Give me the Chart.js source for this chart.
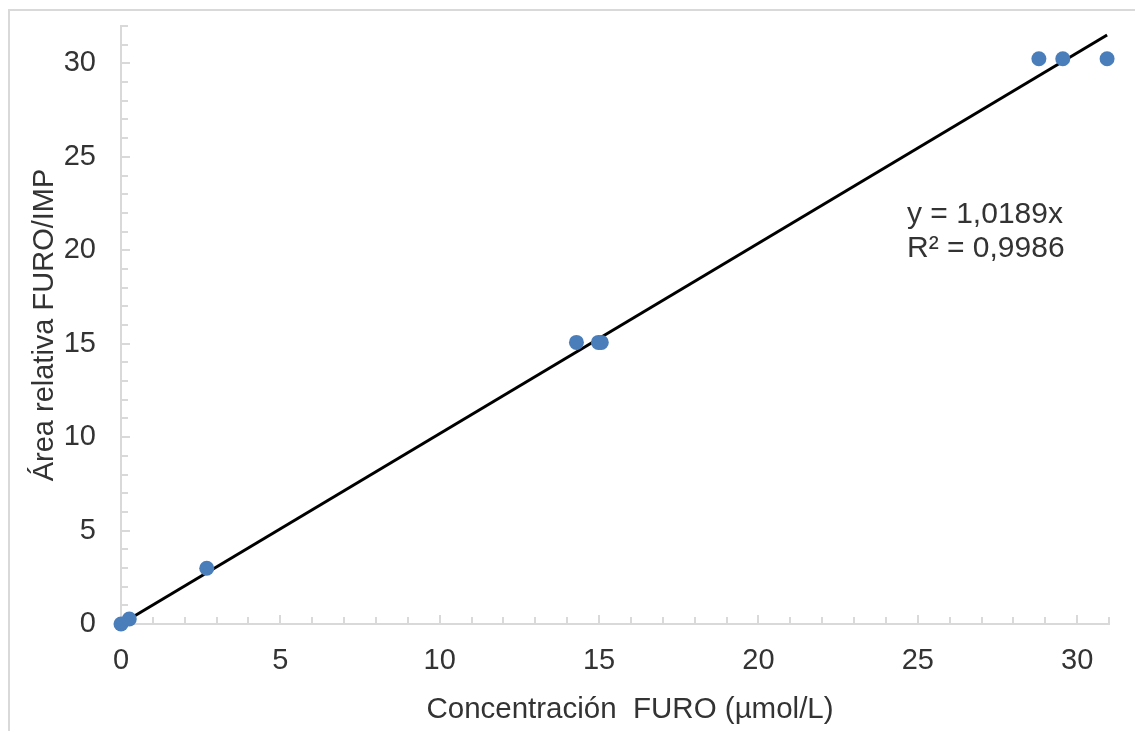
<!DOCTYPE html>
<html><head><meta charset="utf-8">
<script src="https://cdn.jsdelivr.net/npm/chart.js@4.4.0/dist/chart.umd.min.js"></script>
<style>
html,body{margin:0;padding:0;background:#fff;overflow:hidden;width:1135px;height:731px}
#frame{position:absolute;left:8px;top:9px;width:1300px;height:900px;border:2px solid #d9d9d9;box-sizing:border-box}
#c{position:absolute;left:0;top:0}
</style></head><body>
<div id="frame"></div>
<canvas id="c" width="1135" height="731"></canvas>
<script>
// Data
const concentracion = [0, 0.26, 2.69, 14.29, 14.98, 15.07, 28.8, 29.55, 30.94];
const areaRelativa  = [0, 0.27, 2.98, 15.07, 15.07, 15.07, 30.25, 30.25, 30.25];
const trendX = [0, 30.94];
const trendY = [0, 31.52];
const equationLines = ['y = 1,0189x', 'R² = 0,9986'];
const xTitle = 'Concentración  FURO (µmol/L)';
const yTitle = 'Área relativa FURO/IMP';
const xRange = [0, 31];
const yRange = [0, 32];
const majorStep = 5;
const minorStep = 1;

const TEXT = '#333333';
const AXIS = '#d9d9d9';
const FONT = "'Liberation Sans', Arial, Helvetica, sans-serif";

const points = concentracion.map((x, i) => ({x, y: areaRelativa[i]}));
const trend = trendX.map((x, i) => ({x, y: trendY[i]}));

const tickMarks = {
  id: 'tickMarks',
  beforeDatasetsDraw(chart) {
    const {ctx, chartArea, scales: {x, y}} = chart;
    ctx.save();
    ctx.strokeStyle = AXIS;
    ctx.lineWidth = 2;
    for (let v = xRange[0]; v <= xRange[1]; v += minorStep) {
      const px = Math.round(x.getPixelForValue(v));
      const len = v % majorStep === 0 ? 9 : 7;
      ctx.beginPath(); ctx.moveTo(px, chartArea.bottom); ctx.lineTo(px, chartArea.bottom - len); ctx.stroke();
    }
    for (let v = yRange[0]; v <= yRange[1]; v += minorStep) {
      const py = Math.round(y.getPixelForValue(v));
      const len = v % majorStep === 0 ? 9 : 7;
      ctx.beginPath(); ctx.moveTo(chartArea.left, py); ctx.lineTo(chartArea.left + len, py); ctx.stroke();
    }
    ctx.restore();
  }
};

const textLayer = {
  id: 'textLayer',
  afterDraw(chart) {
    const {ctx, chartArea} = chart;
    ctx.save();
    ctx.fillStyle = TEXT;
    ctx.textBaseline = 'alphabetic';
    // regression equation
    ctx.font = '30px ' + FONT;
    ctx.textAlign = 'left';
    const x0 = chartArea.right - 202;
    const y0 = chartArea.top + 197;
    equationLines.forEach((t, i) => ctx.fillText(t, x0, y0 + i * 34));
    // x axis title
    ctx.font = '29.5px ' + FONT;
    ctx.textAlign = 'center';
    ctx.fillText(xTitle, (chartArea.left + chartArea.right) / 2 + 15, chartArea.bottom + 94);
    ctx.restore();
  }
};

new Chart(document.getElementById('c'), {
  type: 'scatter',
  data: {
    datasets: [
      {
        type: 'line',
        data: trend,
        borderColor: '#000',
        borderWidth: 3,
        pointRadius: 0,
        fill: false,
        order: 2,
        clip: false
      },
      {
        data: points,
        backgroundColor: '#4a7ebb',
        borderColor: '#4a7ebb',
        borderWidth: 0,
        pointRadius: 7.5,
        pointHoverRadius: 7.5,
        order: 1,
        clip: false
      }
    ]
  },
  options: {
    responsive: false,
    animation: false,
    events: [],
    layout: {padding: {left: 0, top: 26, right: 26, bottom: 0}},
    plugins: {legend: {display: false}, tooltip: {enabled: false}},
    scales: {
      x: {
        type: 'linear', position: 'bottom',
        min: xRange[0], max: xRange[1],
        afterFit(s) { s.height = 107; s.paddingLeft = 0; s.paddingRight = 0; },
        grid: {display: true, drawOnChartArea: false, drawTicks: false},
        border: {display: true, color: AXIS, width: 2},
        ticks: {stepSize: majorStep, includeBounds: false, padding: 20, color: TEXT, font: {family: FONT, size: 29}, maxRotation: 0, autoSkip: false},
        title: {display: false}
      },
      y: {
        type: 'linear', position: 'left',
        min: yRange[0], max: yRange[1],
        afterFit(s) { s.width = 121; s.paddingTop = 0; s.paddingBottom = 0; },
        grid: {display: true, drawOnChartArea: false, drawTicks: false},
        border: {display: true, color: AXIS, width: 2},
        ticks: {stepSize: majorStep, includeBounds: false, padding: 25, color: TEXT, font: {family: FONT, size: 29}, autoSkip: false},
        title: {display: true, text: yTitle, color: TEXT, font: {family: FONT, size: 29}, padding: {top: 28, bottom: 0}}
      }
    }
  },
  plugins: [tickMarks, textLayer]
});
</script>
</body></html>
